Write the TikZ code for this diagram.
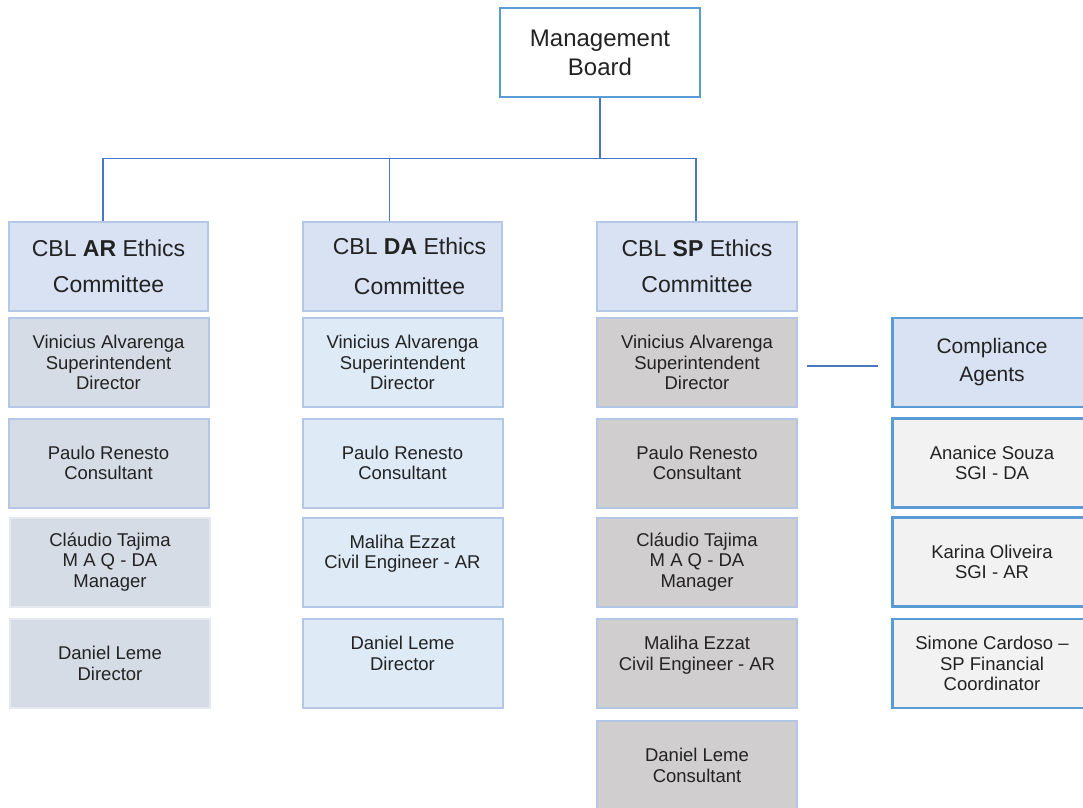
\documentclass[tikz,border=0pt]{standalone}
\usepackage{fontspec}
\setmainfont{Liberation Sans}
\definecolor{boardblue}{HTML}{5B9BD5}
\definecolor{paleedge}{HTML}{B4C7E7}
\definecolor{faintedge}{HTML}{E6EAF0}
\definecolor{headfill}{HTML}{D9E2F3}
\definecolor{arfill}{HTML}{D6DCE5}
\definecolor{dafill}{HTML}{DEEBF7}
\definecolor{spfill}{HTML}{D0CECE}
\definecolor{agentfill}{HTML}{F2F2F2}
\definecolor{linkblue}{HTML}{4A76C6}
\definecolor{inkgray}{HTML}{222222}
\begin{document}
\begin{tikzpicture}[x=1pt,y=-1pt,
  box/.style={minimum width=200pt,minimum height=89pt,inner sep=0pt,align=center,text=inkgray,line width=2pt},
  member/.style={box,font=\fontsize{18.5}{20.7}\selectfont},
  committee/.style={box,fill=headfill,draw=paleedge,font=\fontsize{23}{36}\selectfont},
  link/.style={draw=linkblue,line width=1.3pt}]
\useasboundingbox (0,0) rectangle (1083,807);
\pgfmathsetmacro{\xa}{108.5}
\pgfmathsetmacro{\xd}{402.5}
\pgfmathsetmacro{\xs}{697}
\pgfmathsetmacro{\xc}{992}
%board
\node[box,draw=boardblue,line width=2.8pt,fill=white,font=\fontsize{24}{29}\selectfont] (mb) at (600,52.5) {Management\\Board};
%committees
\node[committee,minimum width=199pt] (ar) at (\xa,266.5) {CBL \textbf{AR} Ethics\\Committee};
\node[committee,minimum width=199pt] (da) at (\xd,266.5) {\hspace*{14pt}CBL \textbf{DA} Ethics\\[4pt]\hspace*{14pt}Committee};
\node[committee] (sp) at (\xs,266.5) {CBL \textbf{SP} Ethics\\Committee};
\node[box,fill=headfill,draw=boardblue,line width=2.8pt,minimum width=199pt,font=\fontsize{21}{28}\selectfont] (ca) at (\xc,362.5) {Compliance\\Agents};
%AR members
\node[member,fill=arfill,draw=paleedge] (ar1) at (\xa,362.5) {Vinicius Alvarenga\\Superintendent\\Director};
\node[member,fill=arfill,draw=paleedge] (ar2) at (\xa,463) {Paulo Renesto\\Consultant};
\node[member,fill=arfill,draw=faintedge] (ar3) at (\xa+1.5,562) {Cláudio Tajima\\M A Q - DA\\Manager};
\node[member,fill=arfill,draw=faintedge] (ar4) at (\xa+1.5,663.5) {Daniel Leme\\Director};
%DA members
\node[member,fill=dafill,draw=paleedge] (da1) at (\xd,362.5) {Vinicius Alvarenga\\Superintendent\\Director};
\node[member,fill=dafill,draw=paleedge] (da2) at (\xd,463) {Paulo Renesto\\Consultant};
\node[member,fill=dafill,draw=paleedge] (da3) at (\xd,562) {Maliha Ezzat\\Civil Engineer - AR\\~};
\node[member,fill=dafill,draw=paleedge] (da4) at (\xd,663.5) {Daniel Leme\\Director\\~};
%SP members
\node[member,fill=spfill,draw=paleedge] (sp1) at (\xs,362.5) {Vinicius Alvarenga\\Superintendent\\Director};
\node[member,fill=spfill,draw=paleedge] (sp2) at (\xs,463) {Paulo Renesto\\Consultant};
\node[member,fill=spfill,draw=paleedge] (sp3) at (\xs,562) {Cláudio Tajima\\M A Q - DA\\Manager};
\node[member,fill=spfill,draw=paleedge] (sp4) at (\xs,663.5) {Maliha Ezzat\\Civil Engineer - AR\\~};
\node[member,fill=spfill,draw=paleedge] (sp5) at (\xs,765.5) {Daniel Leme\\Consultant};
%agents
\node[member,fill=agentfill,draw=boardblue,line width=2.4pt,minimum width=199pt] (ca1) at (\xc,463) {Ananice Souza\\SGI - DA};
\node[member,fill=agentfill,draw=boardblue,line width=2.4pt,minimum width=199pt] (ca2) at (\xc,562) {Karina Oliveira\\SGI - AR};
\node[member,fill=agentfill,draw=boardblue,line width=2.4pt,minimum width=199pt] (ca3) at (\xc,663.5) {Simone Cardoso --\\SP Financial\\Coordinator};
%links
\draw[link] (mb.south) -- ++(0,60) coordinate (bus);
\draw[link] ([xshift=-5.5pt]ar.north) |- (bus) -| ([xshift=-1pt]sp.north);
\draw[link] ([xshift=-13pt]da.north) -- ([xshift=-13pt]da.north |- bus);
\draw[link] ([xshift=9pt,yshift=-3.5pt]sp1.east) -- ([xshift=-13.5pt,yshift=-3.5pt]ca.west);
\end{tikzpicture}
\end{document}
